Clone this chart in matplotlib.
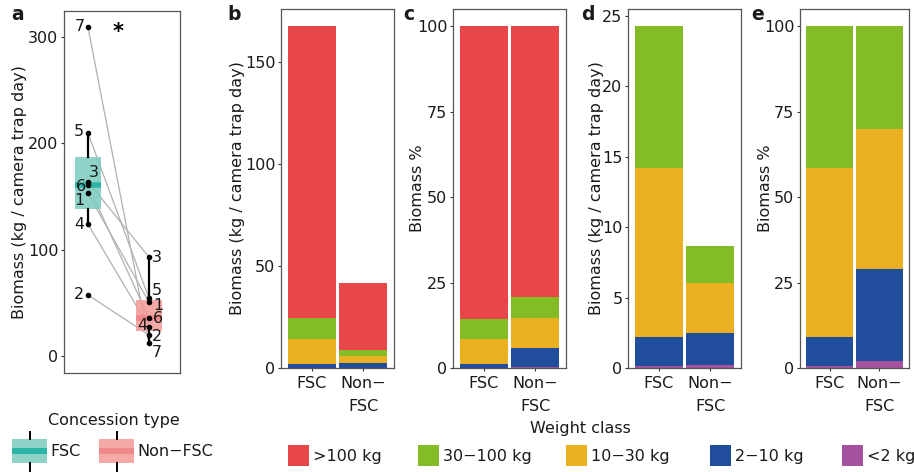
import numpy as np
import matplotlib.pyplot as plt
from matplotlib.patches import Rectangle

plt.rcParams['font.family'] = ['DejaVu Sans']
plt.rcParams['font.size'] = 11.5

W, H = 914, 472

# panel a: biomass per site pair (site ids 1..7)
site_ids = ['1', '2', '3', '4', '5', '6', '7']
fsc_site = [153, 57.4, 164, 124, 209.8, 161, 309.5]
nonfsc_site = [50.8, 19.8, 93, 27.3, 54.6, 35.7, 12.2]

# panels b-e: biomass by weight class
concessions = ['FSC', 'Non−\nFSC']
weight_classes = ['>100 kg', '30−100 kg', '10−30 kg', '2−10 kg', '<2 kg']
class_colors = ['#E8474A', '#84BC25', '#EBB021', '#214E9C', '#A5529E']
fsc_class = [143.5, 10.1, 12.0, 2.07, 0.12]
nonfsc_class = [33.0, 2.6, 3.55, 2.31, 0.18]

frame_col = '#555555'
text_col = '#1a1a1a'


def add_ax(left, top, right, bottom):
    return fig.add_axes([left / W, 1 - bottom / H, (right - left) / W, (bottom - top) / H])


def style(ax):
    for s in ax.spines.values():
        s.set_color(frame_col)
        s.set_linewidth(0.9)
    ax.tick_params(direction='out', length=2.5, width=0.8, color='#333333',
                   labelcolor=text_col, pad=1.5, labelsize=11.5)
    ax.tick_params(axis='x', pad=3)


def set_ylab(ax, label, xc, left, right):
    ax.set_ylabel(label, color=text_col)
    ax.yaxis.label.set_va('center')
    ax.yaxis.set_label_coords((xc - left) / (right - left), 0.5)


def stacked(ax, data, colors):
    x = np.arange(data.shape[0])
    bottom = np.zeros(data.shape[0])
    for i in range(data.shape[1])[::-1]:
        ax.bar(x, data[:, i], width=0.94, bottom=bottom, color=colors[i], lw=0)
        bottom += data[:, i]
    ax.set_xlim(-0.6, 1.6)
    ax.set_xticks(x)
    ax.set_xticklabels(concessions, va='top', linespacing=1.7)


fig = plt.figure(figsize=(W / 100, H / 100), dpi=100)

# ---- panel a
axa = add_ax(64, 11, 180, 373)
style(axa)
for f, n in zip(fsc_site, nonfsc_site):
    axa.plot([1, 2], [f, n], color='#B0B0B0', lw=0.9, zorder=1)
bp = axa.boxplot([fsc_site, nonfsc_site], positions=[1, 2], widths=0.44,
                 patch_artist=True, showcaps=False, showfliers=False,
                 whiskerprops=dict(color='black', lw=1.6),
                 medianprops=dict(lw=4, solid_capstyle='butt'))
for box, med, fc, mc in zip(bp['boxes'], bp['medians'], ['#7ACABF', '#F49A97'], ['#2BB5A6', '#F0898A']):
    box.set_facecolor(fc)
    box.set_edgecolor('none')
    box.set_alpha(0.85)
    box.set_zorder(2)
    med.set_color(mc)
    med.set_zorder(2.5)
for w in bp['whiskers']:
    w.set_zorder(3)
axa.scatter([1] * 7, fsc_site, s=9, color='black', zorder=4)
axa.scatter([2] * 7, nonfsc_site, s=9, color='black', zorder=4)

# label offsets in pixels (dx, dy down), ha
fsc_off = [(-3, 7, 'right'), (-4, 0, 'right'), (1, -9, 'left'), (-4, 0, 'right'),
           (-4, -1, 'right'), (-2, 2, 'right'), (-3, 0, 'right')]
non_off = [(4, 4, 'left'), (3, 2, 'left'), (3, 0, 'left'), (-2, -1, 'right'),
           (3, -7, 'left'), (4, 0, 'left'), (3, 9, 'left')]
for lab, v, (dx, dy, ha) in zip(site_ids, fsc_site, fsc_off):
    axa.annotate(lab, (1, v), xytext=(dx * 0.72, -dy * 0.72), textcoords='offset points',
                 ha=ha, va='center', color=text_col, zorder=5)
for lab, v, (dx, dy, ha) in zip(site_ids, nonfsc_site, non_off):
    axa.annotate(lab, (2, v), xytext=(dx * 0.72, -dy * 0.72), textcoords='offset points',
                 ha=ha, va='center', color=text_col, zorder=5)
axa.text(1.5, 305, '*', ha='center', va='center', fontsize=15, fontweight='bold')
axa.set_xlim(0.607, 2.51)
axa.set_ylim(-16, 324.5)
axa.set_xticks([])
axa.set_yticks([0, 100, 200, 300])
set_ylab(axa, 'Biomass (kg / camera trap day)', 20, 64, 180)

# ---- panels b-e
abs_all = np.array([fsc_class, nonfsc_class])
pct_all = abs_all / abs_all.sum(axis=1, keepdims=True) * 100
abs_small = abs_all[:, 1:]
pct_small = abs_small / abs_small.sum(axis=1, keepdims=True) * 100

axb = add_ax(281, 9, 394, 368)
style(axb)
stacked(axb, abs_all, class_colors)
axb.set_ylim(0, 176)
axb.set_yticks([0, 50, 100, 150])
set_ylab(axb, 'Biomass (kg / camera trap day)', 237.5, 281, 394)

axc = add_ax(453, 9, 566, 368)
style(axc)
stacked(axc, pct_all, class_colors)
axc.set_ylim(0, 105)
axc.set_yticks([0, 25, 50, 75, 100])
set_ylab(axc, 'Biomass %', 418, 453, 566)

axd = add_ax(628, 9, 741, 368)
style(axd)
stacked(axd, abs_small, class_colors[1:])
axd.set_ylim(0, 25.5)
axd.set_yticks([0, 5, 10, 15, 20, 25])
set_ylab(axd, 'Biomass (kg / camera trap day)', 596, 628, 741)

axe = add_ax(800, 9, 909, 368)
style(axe)
stacked(axe, pct_small, class_colors[1:])
axe.set_ylim(0, 105)
axe.set_yticks([0, 25, 50, 75, 100])
set_ylab(axe, 'Biomass %', 765, 800, 909)

# panel letters
for lab, x in zip('abcde', [18, 234, 409, 588, 758]):
    fig.text(x / W, 1 - 15 / H, lab, ha='center', va='center', fontsize=13.5,
             fontweight='bold', color=text_col)

# ---- legends (drawn in pixel space)
lg = fig.add_axes([0, 0, 1, 1])
lg.set_xlim(0, W)
lg.set_ylim(H, 0)
lg.axis('off')

lg.text(114, 420, 'Concession type', ha='center', va='center', color=text_col)
for x0, fc, mc, lab in [(12, '#7ACABF', '#2BB5A6', 'FSC'), (99, '#F49A97', '#F0898A', 'Non−FSC')]:
    xc = x0 + 17.5
    lg.plot([xc, xc], [432, 439], color='black', lw=1.4)
    lg.plot([xc, xc], [463, 471], color='black', lw=1.4)
    lg.add_patch(Rectangle((x0, 439), 35, 24, facecolor=fc, edgecolor='none', alpha=0.85))
    lg.add_patch(Rectangle((x0, 448), 35, 6, facecolor=mc, edgecolor='none'))
    lg.text(x0 + 38, 452, lab, ha='left', va='center', color=text_col)

lg.text(580, 428, 'Weight class', ha='center', va='center', color=text_col)
for x0, col, lab in zip([288, 418, 566, 710, 842], class_colors, weight_classes):
    lg.add_patch(Rectangle((x0, 445), 21, 21, facecolor=col, edgecolor='none'))
    lg.text(x0 + 25, 456, lab, ha='left', va='center', color=text_col)

fig.savefig('out.png', dpi=100)
